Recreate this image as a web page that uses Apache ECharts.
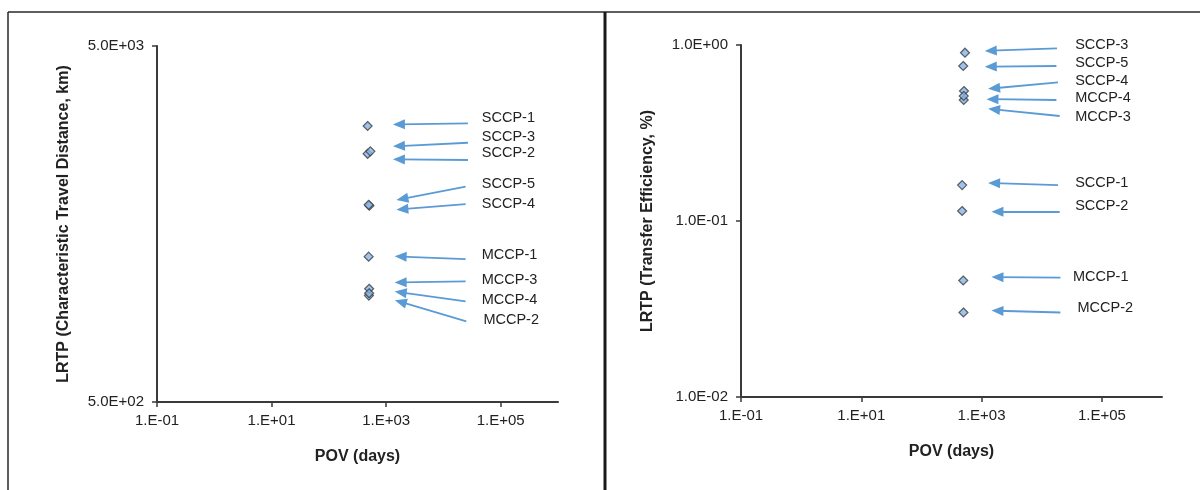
<!DOCTYPE html>
<html><head><meta charset="utf-8">
<script src="https://cdn.jsdelivr.net/npm/echarts@6/dist/echarts.min.js"></script>
<style>html,body{margin:0;padding:0;background:#fff}#c{width:1200px;height:490px}</style>
</head><body><div id="c"></div>
<script>
// ---- data ----
const compounds = ['SCCP-1','SCCP-2','SCCP-3','SCCP-4','SCCP-5','MCCP-1','MCCP-2','MCCP-3','MCCP-4'];
const povDays = [475, 475, 530, 510, 495, 495, 500, 505, 505];
const travelDistanceKm = [2980, 2490, 2530, 1780, 1790, 1280, 995, 1040, 1010];
const transferEfficiencyPct = [0.160, 0.114, 0.904, 0.548, 0.760, 0.0459, 0.0302, 0.487, 0.513];

const xTicks = [0.1, 10, 1000, 100000];
const yTicksLeft = [500, 5000];
const yTicksRight = [0.01, 0.1, 1];

// annotation label / arrow positions (data units)
const leftLabelX = [45800, 45800, 45800, 45800, 45800, 45800, 48900, 45800, 45800];
const leftLabelY = [3130, 2497, 2780, 1797, 2044, 1296, 852, 1102, 969];
const leftTailX = [26800, 26800, 26800, 24400, 24400, 24400, 25100, 24400, 24400];
const leftTailY = [3031, 2392, 2674, 1797, 2013, 1260, 842, 1091, 958];
const leftHeadX = [1672, 1672, 1672, 1918, 1918, 1791, 1791, 1791, 1791];
const leftHeadY = [3011, 2402, 2618, 1740, 1860, 1281, 955, 1084, 1016];

const rightLabelX = [35300, 35300, 35300, 35300, 35300, 32360, 38560, 35300, 35300];
const rightLabelY = [0.164, 0.121, 1.0, 0.627, 0.787, 0.0483, 0.0320, 0.392, 0.498];
const rightTailX = [18660, 19900, 17950, 18660, 17540, 20460, 20460, 19900, 17540];
const rightTailY = [0.160, 0.113, 0.958, 0.614, 0.760, 0.0477, 0.0302, 0.395, 0.487];
const rightHeadX = [1614, 1837, 1422, 1614, 1422, 1837, 1837, 1614, 1517];
const rightHeadY = [0.164, 0.113, 0.928, 0.568, 0.753, 0.0480, 0.0309, 0.431, 0.492];

// ---- helpers ----
function fmtE(v, digits) {
  const e = Math.floor(Math.log10(v) + 1e-9);
  const m = v / Math.pow(10, e);
  const ms = digits === 0 ? Math.round(m) + '.' : m.toFixed(digits);
  const ae = Math.abs(e);
  return ms + 'E' + (e < 0 ? '-' : '+') + (ae < 10 ? '0' : '') + ae;
}
const FONT = 'Liberation Sans, Arial, sans-serif';
const axisLineStyle = { color: '#3a3a3a', width: 2 };

function xAxisDef(gi) {
  return {
    type: 'log', logBase: 10, gridIndex: gi, min: 0.1, max: 1e6,
    name: 'POV (days)', nameLocation: 'middle', nameGap: 47,
    nameTextStyle: { fontFamily: FONT, fontSize: 16, fontWeight: 'bold', color: '#222' },
    axisLine: { show: true, onZero: false, lineStyle: axisLineStyle },
    axisTick: { show: true, inside: false, length: 5, lineStyle: { color: '#3a3a3a', width: 1.5 }, customValues: xTicks },
    axisLabel: { customValues: xTicks, margin: 11, fontFamily: FONT, fontSize: 15, color: '#222',
      formatter: v => fmtE(v, 0) },
    splitLine: { show: false }, minorTick: { show: false }
  };
}
function yAxisDef(gi, min, max, ticks, name) {
  return {
    type: 'log', logBase: 10, gridIndex: gi, min: min, max: max,
    name: name, nameLocation: 'middle', nameGap: 85, nameRotate: 90,
    nameTextStyle: { fontFamily: FONT, fontSize: 16, fontWeight: 'bold', color: '#222' },
    axisLine: { show: true, lineStyle: axisLineStyle },
    axisTick: { show: true, inside: false, length: 5, lineStyle: { color: '#3a3a3a', width: 1.5 }, customValues: ticks },
    axisLabel: { customValues: ticks, margin: 13, fontFamily: FONT, fontSize: 15, color: '#222',
      formatter: v => fmtE(v, 1) },
    splitLine: { show: false }, minorTick: { show: false }
  };
}

function points(yv) { return compounds.map((c, i) => ({ name: c, value: [povDays[i], yv[i]] })); }
function labels(lx, ly) { return compounds.map((c, i) => ({ name: c, value: [lx[i], ly[i]] })); }
function arrows(tx, ty, hx, hy) { return compounds.map((c, i) => [{ coord: [tx[i], ty[i]] }, { coord: [hx[i], hy[i]] }]); }

const markerStyle = { color: '#86b4e8', borderColor: '#3c3c3c', borderWidth: 1.2 };

function seriesFor(gi, yv, lx, ly, tx, ty, hx, hy) {
  return [
    {
      type: 'scatter', xAxisIndex: gi, yAxisIndex: gi, symbol: 'diamond', symbolSize: 9,
      itemStyle: markerStyle, data: points(yv), z: 3, clip: false,
      markLine: {
        silent: true, symbol: ['none', 'triangle'], symbolSize: [10, 12], precision: 6,
        lineStyle: { color: '#5b9bd5', width: 1.8, type: 'solid' },
        label: { show: false }, emphasis: { disabled: true },
        data: arrows(tx, ty, hx, hy)
      }
    },
    {
      type: 'scatter', xAxisIndex: gi, yAxisIndex: gi, symbol: 'circle', symbolSize: 1, clip: false, silent: true,
      itemStyle: { color: 'rgba(0,0,0,0)', borderWidth: 0 },
      label: { show: true, position: 'right', distance: 0, formatter: '{b}', opacity: 1,
        fontFamily: FONT, fontSize: 14.5, color: '#222', align: 'left', verticalAlign: 'middle' },
      emphasis: { disabled: true },
      data: labels(lx, ly)
    }
  ];
}

const chart = echarts.init(document.getElementById('c'), null, { renderer: 'canvas' });
chart.setOption({
  animation: false,
  backgroundColor: '#fff',
  grid: [
    { left: 157, top: 46, width: 401, height: 356 },
    { left: 741, top: 45, width: 421, height: 352 }
  ],
  xAxis: [xAxisDef(0), xAxisDef(1)],
  yAxis: [
    yAxisDef(0, 500, 5000, yTicksLeft, 'LRTP (Characteristic Travel Distance, km)'),
    yAxisDef(1, 0.01, 1, yTicksRight, 'LRTP (Transfer Efficiency, %)')
  ],
  series: [].concat(
    seriesFor(0, travelDistanceKm, leftLabelX, leftLabelY, leftTailX, leftTailY, leftHeadX, leftHeadY),
    seriesFor(1, transferEfficiencyPct, rightLabelX, rightLabelY, rightTailX, rightTailY, rightHeadX, rightHeadY)
  ),
  graphic: [
    { type: 'line', shape: { x1: 8, y1: 12, x2: 1200, y2: 12 }, style: { stroke: '#2a2a2a', lineWidth: 1.5 }, silent: true },
    { type: 'line', shape: { x1: 8, y1: 12, x2: 8, y2: 490 }, style: { stroke: '#2a2a2a', lineWidth: 1.5 }, silent: true },
    { type: 'line', shape: { x1: 605, y1: 12, x2: 605, y2: 490 }, style: { stroke: '#1a1a1a', lineWidth: 3 }, silent: true }
  ]
});
</script></body></html>
